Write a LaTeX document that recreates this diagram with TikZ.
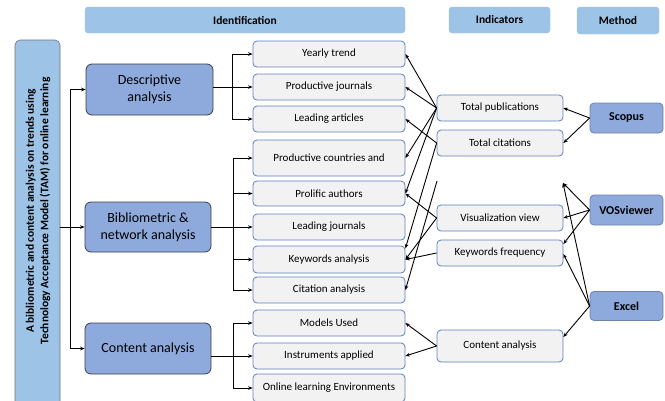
\documentclass[tikz,border=0pt]{standalone}
\usepackage{fontspec}
\setmainfont{Carlito}
\usetikzlibrary{arrows.meta}
\definecolor{hdrblue}{HTML}{9DC3E6}
\definecolor{midblue}{HTML}{8EA9DB}
\definecolor{boxgray}{HTML}{F2F2F2}
\definecolor{boxedge}{HTML}{5B7FC1}
\definecolor{darkedge}{HTML}{3A3F4A}
\definecolor{methedge}{HTML}{6F83A8}
\begin{document}
\begin{tikzpicture}[x=1pt,y=-1pt,
  hdr/.style={fill=hdrblue, draw=hdrblue, rounded corners=3pt, inner sep=0pt,
    font=\fontsize{11.5}{13}\selectfont\bfseries},
  titlebox/.style={fill=hdrblue, draw=black!55, line width=0.6pt, rounded corners=5pt, inner sep=0pt},
  titletxt/.style={rotate=90, align=center, inner sep=0pt,
    font=\fontsize{11.5}{14.5}\selectfont\bfseries},
  anabox/.style={fill=midblue, draw=darkedge, line width=0.8pt, rounded corners=6pt,
    minimum width=126pt, minimum height=51pt, inner sep=0pt, align=center,
    font=\fontsize{14}{17}\selectfont},
  idbox/.style={fill=boxgray, draw=boxedge, line width=0.8pt, rounded corners=4pt,
    minimum width=152pt, minimum height=26pt, inner sep=0pt,
    font=\fontsize{11}{13}\selectfont},
  indbox/.style={idbox, minimum width=126pt},
  methbox/.style={fill=midblue, draw=methedge, line width=0.8pt, rounded corners=4pt,
    minimum width=73pt, minimum height=30pt, inner sep=0pt,
    font=\fontsize{12}{14}\selectfont\bfseries},
  ln/.style={line width=0.9pt, draw=black},
  arr/.style={ln, -{Stealth[length=4.5pt,width=3.6pt]}}
]
\useasboundingbox (0,0) rectangle (665,400);
\clip (0,0) rectangle (665,400);

% headers
\node[hdr, minimum width=320pt, minimum height=26pt] (hid) at (245,20) {Identification};
\node[hdr, minimum width=101pt, minimum height=26pt] (hind) at (499.5,20) {Indicators};
\node[hdr, minimum width=82pt, minimum height=27pt] (hmet) at (618,20.5) {Method};

% title
\node[titlebox, minimum width=45pt, minimum height=372pt] (title) at (37.5,226) {};
\node[titletxt] (titletext) at (38,211) {A bibliometric and content analysis on trends using\\Technology Acceptance Model (TAM) for online learning};

% analysis boxes
\node[anabox, minimum width=127pt] (desc) at (149.5,89.5) {Descriptive\\analysis};
\node[anabox, minimum height=50pt] (bib) at (148,227) {Bibliometric \&\\network analysis};
\node[anabox] (cont) at (148,348.5) {Content analysis};

% identification boxes
\node[idbox] (yearly) at (329,54) {Yearly trend};
\node[idbox] (prodj) at (329,87) {Productive journals};
\node[idbox] (leadart) at (329,119) {Leading articles};
\node[idbox, minimum height=36pt] (countries) at (329,158) {Productive countries and};
\node[idbox, minimum height=25pt] (prol) at (329,193.5) {Prolific authors};
\node[idbox] (leadj) at (329,227) {Leading journals};
\node[idbox, minimum height=27pt] (kwa) at (329,259.5) {Keywords analysis};
\node[idbox] (cit) at (329,290) {Citation analysis};
\node[idbox] (models) at (329,323) {Models Used};
\node[idbox] (inst) at (329,356) {Instruments applied};
\node[idbox, minimum height=28pt] (online) at (329,388) {Online learning Environments};

% indicator boxes
\node[indbox] (tp) at (500,108) {Total publications};
\node[indbox] (tc) at (500,143) {Total citations};
\node[indbox] (vv) at (500,218) {Visualization view};
\node[indbox] (kf) at (500,253) {Keywords frequency};
\node[indbox, minimum height=32pt] (cai) at (500,346) {Content analysis};

% method boxes
\node[methbox] (scopus) at (626.5,118) {Scopus};
\node[methbox] (vos) at (626.5,210) {VOSviewer};
\node[methbox, minimum height=29pt] (excel) at (626.5,306) {Excel};

% trunk from title
\coordinate (tx) at (70,0);
\draw[arr] (title.east |- bib.west) -- (bib.west);
\draw[ln] (tx |- desc.west) -- (tx |- cont.west);
\draw[arr] (tx |- desc.west) -- (desc.west);
\draw[arr] (tx |- cont.west) -- (cont.west);

% descriptive branch
\coordinate (dj) at (232,0);
\draw[ln] (desc.east |- prodj.west) -- (dj |- prodj.west);
\draw[ln] (dj |- yearly.west) -- (dj |- leadart.west);
\foreach \t in {yearly,prodj,leadart} \draw[arr] (dj |- \t.west) -- (\t.west);

% bibliometric branch
\coordinate (bj) at (233,0);
\draw[ln] (bib.east) -- (bj |- bib.east);
\draw[ln] (bj |- countries.west) -- (bj |- cit.west);
\foreach \t in {countries,prol,leadj,kwa,cit} \draw[arr] (bj |- \t.west) -- (\t.west);

% content branch
\draw[ln] (cont.east |- inst.west) -- (bj |- inst.west);
\draw[ln] (bj |- models.west) -- (bj |- online.west);
\foreach \t in {models,inst,online} \draw[arr] (bj |- \t.west) -- (\t.west);

% indicators to identification
\foreach \t in {yearly,prodj,countries,prol} \draw[arr] (tp.west) -- (\t.east);
\draw[arr] (tc.west) -- (leadart.east);
\draw[arr] (tc.west) -- ([yshift=11pt]kwa.east);
\coordinate (P) at (437,181);
\draw[arr] (P) -- (cit.east);
\draw[arr] (vv.west) -- (prol.east);
\draw[arr] (vv.west) -- (kwa.east);
\draw[arr] (kf.west) -- (kwa.east);
\draw[arr] (cai.west) -- (models.east);
\draw[arr] (cai.west) -- (inst.east);

% methods to indicators
\draw[arr] (scopus.west) -- (tp.east);
\draw[arr] (scopus.west) -- (tc.east);
\coordinate (Q) at (563,183);
\draw[arr] (vos.west) -- (Q);
\draw[arr] (vos.west) -- (vv.east);
\draw[arr] (vos.west) -- ([yshift=9pt]kf.east);
\draw[arr] (excel.west) -- (Q);
\draw[arr] (excel.west) -- ([yshift=-1pt]kf.east);
\draw[arr] (excel.west) -- ([yshift=9pt]cai.east);
\end{tikzpicture}
\end{document}
